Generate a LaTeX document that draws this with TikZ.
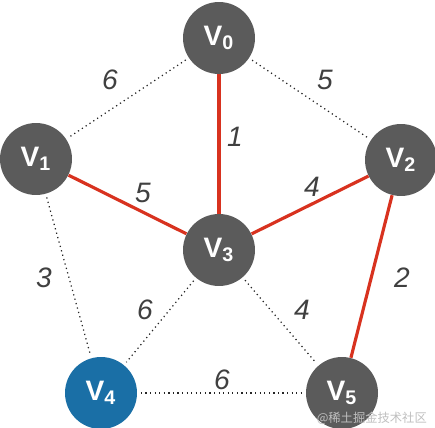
\documentclass[tikz,border=0pt]{standalone}
\usepackage{fontspec}
\setmainfont{Liberation Sans}
\newfontfamily\cjk{Noto Sans CJK SC}
\definecolor{nodegray}{HTML}{5B5B5B}
\definecolor{nodeblue}{HTML}{1A6FA6}
\definecolor{treered}{HTML}{D8321F}
\begin{document}
\begin{tikzpicture}[x=0.02cm, y=-0.02cm,
    vertex/.style={circle, minimum size=1.44cm, inner sep=0pt, text=white,
        font=\fontsize{15}{18}\selectfont},
    nontree/.style={line width=0.7pt, dash pattern=on 0.7pt off 1.9pt, black!85},
    treeedge/.style={treered, line width=1.8pt},
    weight/.style={font=\fontsize{16}{18}\selectfont\itshape, text=black!75}]
    \useasboundingbox (0,0) rectangle (435,428);

    % 顶点
    \foreach \name/\x/\y/\c in {v0/219/38/nodegray, v1/36/159/nodegray, v2/401/160/nodegray,
        v3/219/250/nodegray, v4/101/393/nodeblue, v5/342/393/nodegray}{
        \node[vertex, fill=\c] (\name) at (\x,\y) {};
    }
    \foreach \i in {0,...,5}{
        \node[text=white, font=\fontsize{16}{18}\selectfont\bfseries] at (v\i) {V\textsubscript{\i}};
    }

    % 未选中的边
    \foreach \a/\b in {v0/v1, v0/v2, v1/v4, v3/v4, v3/v5, v4/v5}{
        \draw[nontree, shorten <=2pt, shorten >=2pt] (\a) -- (\b);
    }

    % 最小生成树的边
    \foreach \a/\b in {v0/v3, v1/v3, v2/v3, v2/v5}{
        \draw[treeedge] (\a) -- (\b);
    }

    % 权值
    \foreach \x/\y/\w in {110/80/6, 325/80/5, 235/137/1, 143/193/5, 312/187/4,
        44/278/3, 402/278/2, 145/310/6, 302/310/4, 222/380/6}{
        \node[weight] at (\x,\y) {\w};
    }

    % 水印
    \node[anchor=east, text=black!25, font=\cjk\fontsize{7}{8}\selectfont] at (433,418) {@稀土掘金技术社区};
\end{tikzpicture}
\end{document}
